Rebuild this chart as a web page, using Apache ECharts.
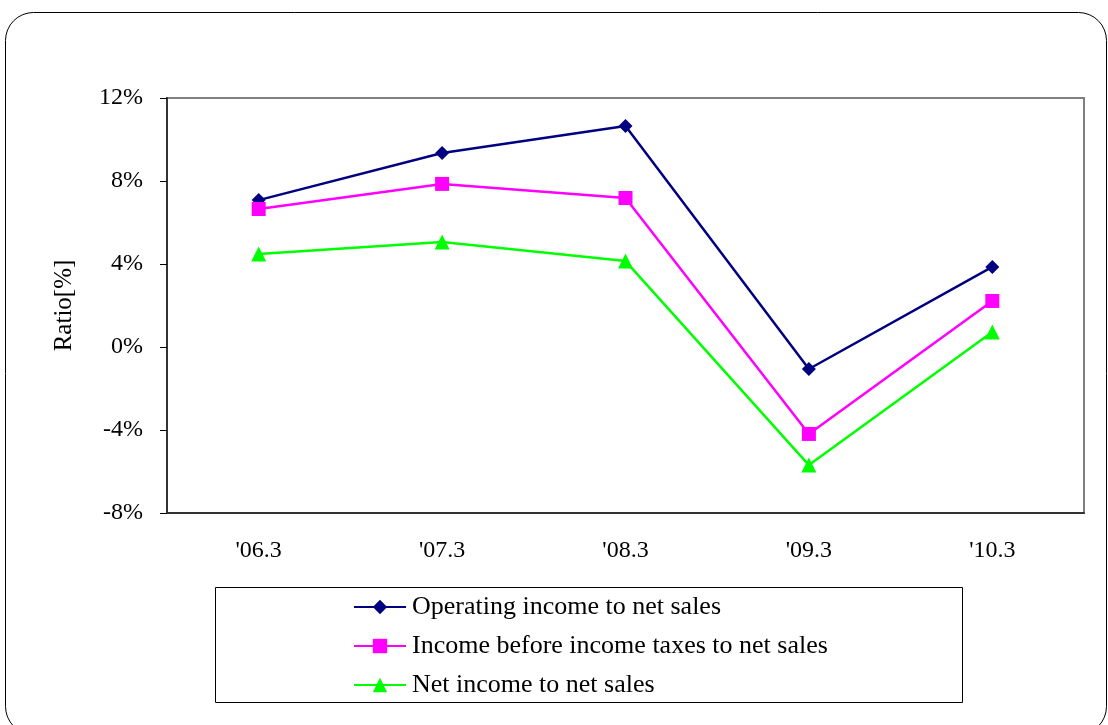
<!DOCTYPE html>
<html><head><meta charset="utf-8">
<script src="https://cdn.jsdelivr.net/npm/echarts@6/dist/echarts.min.js"></script>
<style>html,body{margin:0;padding:0;background:#fff}#c{width:1108px;height:725px}</style>
</head><body><div id="c"></div>
<script>
const categories = ["'06.3", "'07.3", "'08.3", "'09.3", "'10.3"];
const operatingIncome = [7.08, 9.35, 10.65, -1.06, 3.86];
const incomeBeforeTaxes = [6.65, 7.86, 7.18, -4.19, 2.22];
const netIncome = [4.48, 5.06, 4.14, -5.69, 0.72];
const seriesNames = ["Operating income to net sales", "Income before income taxes to net sales", "Net income to net sales"];

const font = "'Liberation Serif', 'Times New Roman', serif";
const chart = echarts.init(document.getElementById('c'));
chart.setOption({
  animation: false,
  backgroundColor: '#fff',
  textStyle: { fontFamily: font },
  graphic: [
    { type: 'rect', shape: { x: 5.5, y: 12.5, width: 1101, height: 722, r: 28 }, style: { fill: 'none', stroke: '#000', lineWidth: 1 }, z: -1 },
    { type: 'rect', shape: { x: 215.5, y: 587.5, width: 747, height: 115 }, style: { fill: 'none', stroke: '#000', lineWidth: 1 }, z: -1 }
  ],
  grid: { left: 167, right: 24, top: 98, bottom: 212, show: true, borderColor: '#808080', borderWidth: 2, backgroundColor: 'transparent' },
  legend: {
    orient: 'vertical', left: 353, top: 594, padding: 0,
    itemWidth: 52, itemHeight: 18, itemGap: 13,
    textStyle: { fontFamily: font, fontSize: 26, color: '#000', lineHeight: 26, padding: [0, 0, 0, 1] },
    data: seriesNames
  },
  xAxis: {
    type: 'category', data: categories, boundaryGap: true,
    axisLine: { onZero: false, lineStyle: { color: '#333', width: 2 } },
    axisTick: { inside: true, length: 8, lineStyle: { color: '#000', width: 1 } },
    axisLabel: { color: '#000', fontSize: 24, fontFamily: font, margin: 26 }
  },
  yAxis: {
    type: 'value', min: -8, max: 12, interval: 4,
    name: 'Ratio[%]', nameLocation: 'middle', nameGap: 90,
    nameTextStyle: { color: '#000', fontSize: 25, fontFamily: font },
    axisLine: { show: true, lineStyle: { color: '#333', width: 2 } },
    axisTick: { show: true, length: 7, lineStyle: { color: '#000', width: 1 } },
    splitLine: { show: false },
    axisLabel: { color: '#000', fontSize: 24, fontFamily: font, margin: 24, formatter: '{value}%' }
  },
  series: [
    { name: seriesNames[0], type: 'line', data: operatingIncome, symbol: 'diamond', symbolSize: 14,
      lineStyle: { color: '#000080', width: 2.5 }, itemStyle: { color: '#000080' } },
    { name: seriesNames[1], type: 'line', data: incomeBeforeTaxes, symbol: 'rect', symbolSize: 14,
      lineStyle: { color: '#FF00FF', width: 2.5 }, itemStyle: { color: '#FF00FF' } },
    { name: seriesNames[2], type: 'line', data: netIncome, symbol: 'triangle', symbolSize: 15,
      lineStyle: { color: '#00FF00', width: 2.5 }, itemStyle: { color: '#00FF00' } }
  ]
});
</script></body></html>
